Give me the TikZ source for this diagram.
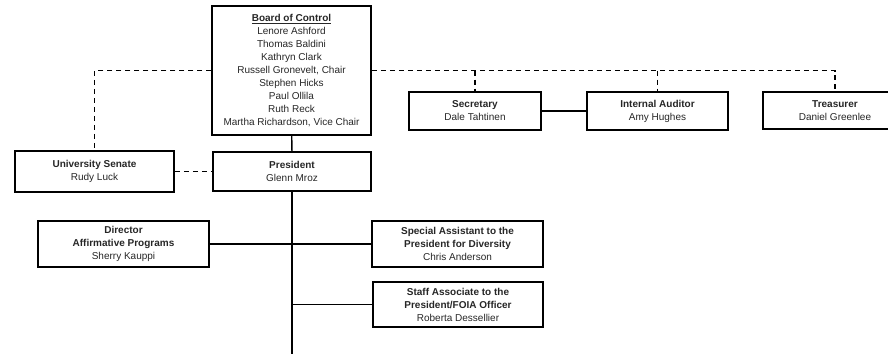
\documentclass[tikz,border=0pt]{standalone}
\usepackage{fontspec}
\setmainfont{Liberation Sans}
\usepackage{tikz}
\usetikzlibrary{positioning}

\begin{document}
\begin{tikzpicture}[x=1pt, y=-1pt, line width=1.3pt,
    box/.style={draw, line width=1.5pt, align=center, inner sep=0pt, text=black!85,
                font=\fontsize{10}{13}\selectfont},
    staff/.style={dash pattern=on 5pt off 4pt}]
  \clip (0,0) rectangle (888,354);
  \useasboundingbox (0,0) rectangle (888,354);

  \node[box, minimum width=159pt, minimum height=129pt] (board)  at (291.5,70.5)
    {\textbf{\underline{Board of Control}}\\Lenore Ashford\\Thomas Baldini\\Kathryn Clark\\
     Russell Gronevelt, Chair\\Stephen Hicks\\Paul Ollila\\Ruth Reck\\Martha Richardson, Vice Chair};
  \node[box, minimum width=158pt, minimum height=39pt]  (pres)   at (292,171.5)
    {\textbf{President}\\Glenn Mroz};
  \node[box, minimum width=159pt, minimum height=41pt]  (senate) at (94.5,171.5)
    {\textbf{University Senate}\\Rudy Luck};
  \node[box, minimum width=132pt, minimum height=38pt]  (sec)    at (475,111)
    {\textbf{Secretary}\\Dale Tahtinen};
  \node[box, minimum width=141pt, minimum height=38pt]  (audit)  at (657.5,111)
    {\textbf{Internal Auditor}\\Amy Hughes};
  \node[box, minimum width=144pt, minimum height=37pt]  (treas)  at (835,110.5)
    {\textbf{Treasurer}\\Daniel Greenlee};
  \node[box, minimum width=171pt, minimum height=46pt]  (dir)    at (123.5,244)
    {\textbf{Director}\\\textbf{Affirmative Programs}\\Sherry Kauppi};
  \node[box, minimum width=171pt, minimum height=46pt]  (spec)   at (457.5,244)
    {\textbf{Special Assistant to the}\\\textbf{President for Diversity}\\Chris Anderson};
  \node[box, minimum width=170pt, minimum height=45pt]  (foia)   at (458,304.5)
    {\textbf{Staff Associate to the}\\\textbf{President/FOIA Officer}\\Roberta Dessellier};

  \coordinate (trunk)  at (pres.south |- 0,354);
  \coordinate (leftc)  at (senate.north |- board.west);
  \coordinate (rightc) at (treas.north |- board.east);

  % line of authority
  \draw (board) -- (pres);
  \draw (pres) -- (trunk);
  \draw (dir) -- (spec);
  \draw (foia.west) -- (foia.west -| pres.south);
  \draw (sec) -- (audit);

  % advisory lines
  \draw[staff] (board.east) -- (rightc) -- (treas.north);
  \draw[staff] (sec.north |- board.east) -- (sec.north);
  \draw[staff] (audit.north |- board.east) -- (audit.north);
  \draw[staff] (board.west) -- (leftc) -- (senate.north);
  \draw[staff] (senate) -- (pres);
\end{tikzpicture}
\end{document}
